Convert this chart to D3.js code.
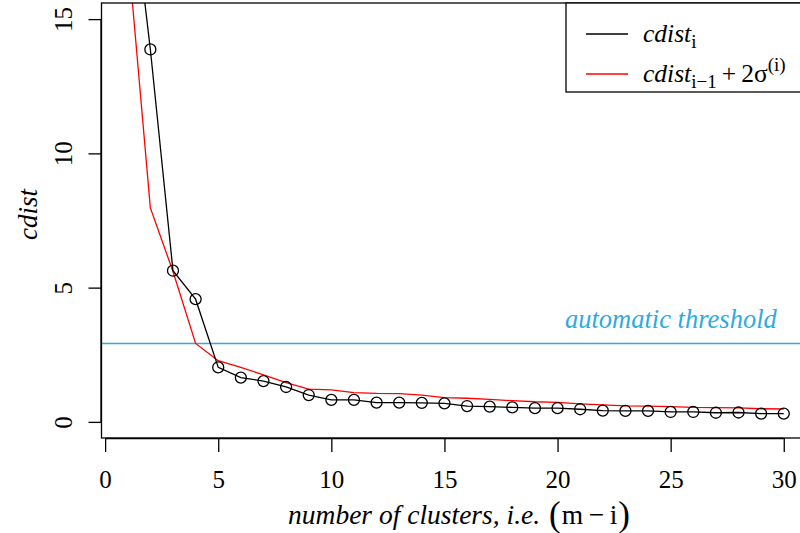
<!DOCTYPE html>
<html>
<head>
<meta charset="utf-8">
<script src="https://cdn.jsdelivr.net/npm/d3@7/dist/d3.min.js"></script>
<style>
  html, body { margin: 0; padding: 0; background: #fff; }
  svg { display: block; }
</style>
</head>
<body>
<svg id="chart" width="800" height="533"></svg>
<script>
// number of clusters (m - i)
const clusters = d3.range(1, 31);
// cdist_i
const cdist = [21.0, 13.87, 5.63, 4.57, 2.03, 1.65, 1.52, 1.30, 1.00, 0.82,
               0.82, 0.72, 0.72, 0.71, 0.69, 0.59, 0.57, 0.54, 0.51, 0.51,
               0.47, 0.42, 0.41, 0.41, 0.37, 0.37, 0.34, 0.35, 0.31, 0.31];
// cdist_{i-1} + 2 sigma^(i)
const bound = [17.6, 7.97, 5.6, 2.92, 2.28, 2.03, 1.75, 1.46, 1.22, 1.19,
               1.09, 1.06, 1.05, 1.00, 0.90, 0.88, 0.84, 0.79, 0.75, 0.73,
               0.67, 0.63, 0.60, 0.59, 0.57, 0.54, 0.53, 0.52, 0.49, 0.48];
const threshold = 2.92;
const xTicks = [0, 5, 10, 15, 20, 25, 30];
const yTicks = [0, 5, 10, 15];

const SERIF = '"Liberation Serif", "Times New Roman", Times, serif';
const svg = d3.select("#chart").style("font-family", SERIF);
const plot = { left: 101.5, right: 810, top: 3, bottom: 438 };

const x = d3.scaleLinear().domain([-0.16, 31.16]).range([plot.left, plot.right]);
const y = d3.scaleLinear().domain([-0.6, 15.6]).range([plot.bottom, plot.top]);

svg.append("defs").append("clipPath").attr("id", "plotclip")
  .append("rect")
  .attr("x", plot.left).attr("y", plot.top)
  .attr("width", plot.right - plot.left).attr("height", plot.bottom - plot.top);

const g = svg.append("g").attr("clip-path", "url(#plotclip)");

// automatic threshold
g.append("line")
  .attr("x1", plot.left).attr("x2", plot.right)
  .attr("y1", y(threshold)).attr("y2", y(threshold))
  .attr("stroke", "#2eaadf").attr("stroke-width", 1.4);
svg.append("text")
  .attr("x", 565).attr("y", y(threshold) - 15)
  .attr("font-size", 26.5).attr("font-style", "italic")
  .style("font-family", SERIF)
  .style("fill", "#2eaadf")
  .text("automatic threshold");

const line = d3.line().x((d, i) => x(clusters[i])).y(d => y(d));

g.append("path").datum(bound)
  .attr("d", line).attr("fill", "none")
  .attr("stroke", "#ff0000").attr("stroke-width", 1.3);

g.append("path").datum(cdist)
  .attr("d", line).attr("fill", "none")
  .attr("stroke", "#000").attr("stroke-width", 1.3);

g.selectAll("circle.pt").data(cdist).join("circle")
  .attr("class", "pt")
  .attr("cx", (d, i) => x(clusters[i])).attr("cy", d => y(d))
  .attr("r", 5.5).attr("fill", "none")
  .attr("stroke", "#000").attr("stroke-width", 1.3);

// plot frame
svg.append("rect")
  .attr("x", plot.left).attr("y", plot.top)
  .attr("width", plot.right - plot.left).attr("height", plot.bottom - plot.top)
  .attr("fill", "none").attr("stroke", "#000").attr("stroke-width", 1.3);

// x axis
const xAxis = svg.append("g").attr("transform", `translate(0,${plot.bottom})`)
  .call(d3.axisBottom(x).tickValues(xTicks).tickSize(14).tickFormat(d3.format("d")));
xAxis.attr("font-family", null).attr("font-size", null);
xAxis.select(".domain").attr("d", `M${x(0)},0.5H${x(30)}`).attr("stroke-width", 1.3);
xAxis.selectAll(".tick line").attr("stroke-width", 1.3);
xAxis.selectAll(".tick text")
  .attr("y", 50).attr("dy", null)
  .attr("font-size", 25).style("font-family", SERIF);

// y axis
const yAxis = svg.append("g").attr("transform", `translate(${plot.left},0)`)
  .call(d3.axisLeft(y).tickValues(yTicks).tickSize(13).tickFormat(d3.format("d")));
yAxis.attr("font-family", null).attr("font-size", null);
yAxis.select(".domain").attr("d", `M-0.5,${y(0)}V${y(15)}`).attr("stroke-width", 1.3);
yAxis.selectAll(".tick line").attr("stroke-width", 1.3);
yAxis.selectAll(".tick text")
  .attr("x", null).attr("dy", null)
  .attr("text-anchor", "middle")
  .attr("transform", "translate(-30,0) rotate(-90)")
  .attr("font-size", 25).style("font-family", SERIF);

// y axis title
svg.append("text")
  .attr("transform", `translate(37,${(plot.top + plot.bottom) / 2 - 6}) rotate(-90)`)
  .attr("text-anchor", "middle").attr("font-size", 27).attr("font-style", "italic")
  .style("font-family", SERIF)
  .text("cdist");

// x axis title: italic words followed by (m - i) in taller parentheses
const parts = [
  { text: "number of clusters, i.e.", italic: true, size: 27.5, gap: 9 },
  { text: "(", italic: false, size: 35, gap: 1 },
  { text: "m\u2009\u2212\u2009i", italic: false, size: 27.5, gap: 1 },
  { text: ")", italic: false, size: 35, gap: 0 }
];
const xt = svg.append("g").style("font-family", SERIF);
const pieces = xt.selectAll("text").data(parts).join("text")
  .attr("font-size", d => d.size)
  .attr("font-style", d => d.italic ? "italic" : "normal")
  .style("font-family", SERIF)
  .text(d => d.text);
const widths = [];
pieces.each(function (d) { widths.push(this.getComputedTextLength() + d.gap); });
let cursor = 459 - d3.sum(widths) / 2;
pieces.each(function (d, i) {
  d3.select(this).attr("x", cursor).attr("y", d.size > 30 ? 526 : 524);
  cursor += widths[i];
});

// legend
const lg = svg.append("g").style("font-family", SERIF);
lg.append("rect")
  .attr("x", 566).attr("y", plot.top).attr("width", plot.right - 566).attr("height", 92 - plot.top)
  .attr("fill", "#fff").attr("stroke", "#000").attr("stroke-width", 1.3);
const entries = [
  { color: "#000", y: 34 },
  { color: "#ff0000", y: 74 }
];
lg.selectAll("line.key").data(entries).join("line")
  .attr("class", "key")
  .attr("x1", 586).attr("x2", 628)
  .attr("y1", d => d.y).attr("y2", d => d.y)
  .attr("stroke", d => d.color).attr("stroke-width", 1.3);

const t1 = lg.append("text").attr("x", 643).attr("y", 42).attr("font-size", 25.5)
  .style("font-family", SERIF);
t1.append("tspan").attr("font-style", "italic").text("cdist");
t1.append("tspan").attr("font-size", 19).attr("dy", 6).text("i");

const t2 = lg.append("text").attr("x", 643).attr("y", 82).attr("font-size", 25.5)
  .style("font-family", SERIF);
t2.append("tspan").attr("font-style", "italic").text("cdist");
t2.append("tspan").attr("font-size", 19).attr("dy", 6).text("i\u22121");
t2.append("tspan").attr("dy", -6).text("\u2009+\u20092\u03c3");
t2.append("tspan").attr("font-size", 19).attr("dy", -11).text("(i)");
</script>
</body>
</html>
